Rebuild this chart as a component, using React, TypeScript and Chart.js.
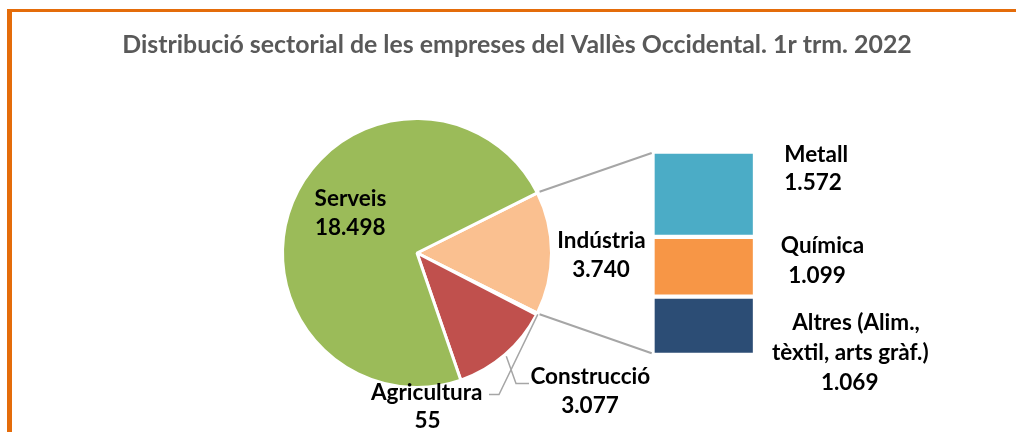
import React, { useEffect, useRef } from 'react';
import { Chart, registerables } from 'chart.js';

Chart.register(...registerables);

const TITLE = 'Distribució sectorial de les empreses del Vallès Occidental. 1r trm. 2022';

// Pie (main) series
const pieCategories = ['Indústria', 'Agricultura', 'Construcció', 'Serveis'];
const pieValues = [3740, 55, 3077, 18498];

// Bar (breakdown of Indústria) series, top to bottom
const barCategories = ['Metall', 'Química', 'Altres (Alim.,\ntèxtil, arts gràf.)'];
const barValues = [1572, 1099, 1069];

const pieColors = ['#FAC090', '#8064A2', '#C0504D', '#9BBB59'];
const barColors = ['#4BACC6', '#F79646', '#2C4D75'];

const fmt = (n: number) => String(n).replace(/\B(?=(\d{3})+(?!\d))/g, '.');

const W = 1016;
const H = 432;
const FONT = 'Lato';
const LABEL_SIZE = 22.5;

// layout of the text labels (positions only)
const pieLabelLayout = [
  { xs: [601.5, 601], y0: 248.3, lh: 28.4 },
  { xs: [426.7, 427.5], y0: 400, lh: 28.3 },
  { xs: [590.3, 590], y0: 384, lh: 28.7 },
  { xs: [350.5, 350.2], y0: 206, lh: 29 },
];
const barLabelLayout = [
  { align: 'left', xs: [784.3, 784.3], y0: 161.7, lh: 28.3 },
  { align: 'center', xs: [822.5, 817], y0: 253.3, lh: 29.4 },
  { align: 'center', xs: [856, 850.3, 849.7], y0: 330, lh: 30 },
];

export default function App() {
  const refA = useRef<HTMLCanvasElement>(null);
  const refB = useRef<HTMLCanvasElement>(null);

  useEffect(() => {
    const total = pieValues.reduce((a, b) => a + b, 0);
    const rotation = 90 - ((pieValues[0] / total) * 360) / 2;
    const pieCx = 417;
    const pieCy = 253;
    const pieBox = 272;

    const pieDecor = {
      id: 'pieDecor',
      afterDraw(chart: any) {
        const ctx = chart.ctx as CanvasRenderingContext2D;
        ctx.save();
        // title
        ctx.font = `bold 20px ${FONT}`;
        const tw = ctx.measureText(TITLE).width;
        const ts = (20 * 790) / tw;
        ctx.font = `bold ${ts}px ${FONT}`;
        ctx.fillStyle = '#595959';
        ctx.textAlign = 'center';
        ctx.textBaseline = 'alphabetic';
        ctx.fillText(TITLE, 517, 53.3);

        // leader lines
        const arcs = chart.getDatasetMeta(0).data;
        const pt = (i: number, extra: number) => {
          const a = arcs[i];
          const m = (a.startAngle + a.endAngle) / 2;
          return [a.x + (a.outerRadius + extra) * Math.cos(m), a.y + (a.outerRadius + extra) * Math.sin(m)];
        };
        ctx.strokeStyle = '#A6A6A6';
        ctx.lineWidth = 1.5;
        const agri = pt(1, 1);
        ctx.beginPath();
        ctx.moveTo(agri[0], agri[1]);
        ctx.lineTo(499, 394.5);
        ctx.lineTo(489, 394.5);
        ctx.stroke();
        const cons = pt(2, 2);
        ctx.beginPath();
        ctx.moveTo(cons[0], cons[1]);
        ctx.lineTo(516, 383.5);
        ctx.lineTo(529, 383.5);
        ctx.stroke();

        // labels
        ctx.font = `bold ${LABEL_SIZE}px ${FONT}`;
        ctx.fillStyle = '#000';
        ctx.textAlign = 'center';
        pieCategories.forEach((name, i) => {
          const lines = [name, fmt(pieValues[i])];
          const L = pieLabelLayout[i];
          lines.forEach((t, j) => ctx.fillText(t, L.xs[j], L.y0 + j * L.lh));
        });
        ctx.restore();
      },
    };

    const chartA = new Chart(refA.current as HTMLCanvasElement, {
      type: 'pie',
      data: {
        labels: pieCategories,
        datasets: [
          {
            data: pieValues,
            backgroundColor: pieColors,
            borderColor: '#ffffff',
            borderWidth: 3,
            hoverOffset: 0,
          },
        ],
      },
      options: {
        responsive: false,
        animation: false,
        events: [],
        rotation,
        layout: {
          padding: {
            left: pieCx - pieBox / 2,
            right: W - pieCx - pieBox / 2,
            top: pieCy - pieBox / 2,
            bottom: H - pieCy - pieBox / 2,
          },
        },
        plugins: {
          legend: { display: false },
          tooltip: { enabled: false },
          title: { display: false },
        },
      },
      plugins: [pieDecor],
    } as any);

    const barTotal = barValues.reduce((a, b) => a + b, 0);
    const order = [2, 1, 0]; // stacked bottom to top

    const barDecor = {
      id: 'barDecor',
      afterDraw(chart: any) {
        const ctx = chart.ctx as CanvasRenderingContext2D;
        ctx.save();
        // connection lines from the Indústria slice to the bar
        const arc: any = chartA.getDatasetMeta(0).data[0];
        const r = arc.outerRadius + 2.5;
        const p1 = [arc.x + r * Math.cos(arc.startAngle), arc.y + r * Math.sin(arc.startAngle)];
        const p2 = [arc.x + r * Math.cos(arc.endAngle), arc.y + r * Math.sin(arc.endAngle)];
        const topBar: any = chart.getDatasetMeta(2).data[0];
        const botBar: any = chart.getDatasetMeta(0).data[0];
        const left = chart.chartArea.left;
        ctx.strokeStyle = '#A6A6A6';
        ctx.lineWidth = 2;
        ctx.beginPath();
        ctx.moveTo(p1[0], p1[1]);
        ctx.lineTo(left - 0.8, topBar.y + 1.5);
        ctx.moveTo(p2[0], p2[1]);
        ctx.lineTo(left - 0.8, botBar.base - 1.5);
        ctx.stroke();

        // labels
        ctx.font = `bold ${LABEL_SIZE}px ${FONT}`;
        ctx.fillStyle = '#000';
        ctx.textBaseline = 'alphabetic';
        barCategories.forEach((name, i) => {
          const lines = [...name.split('\n'), fmt(barValues[i])];
          const L = barLabelLayout[i];
          ctx.textAlign = L.align as CanvasTextAlign;
          lines.forEach((t, j) => ctx.fillText(t, L.xs[j], L.y0 + j * L.lh));
        });
        ctx.restore();
      },
    };

    const chartB = new Chart(refB.current as HTMLCanvasElement, {
      type: 'bar',
      data: {
        labels: ['Indústria'],
        datasets: order.map((i) => ({
          label: barCategories[i],
          data: [barValues[i]],
          backgroundColor: barColors[i],
          borderColor: '#ffffff',
          borderWidth: 2.5,
          borderSkipped: false,
          barPercentage: 1,
          categoryPercentage: 1,
        })),
      },
      options: {
        responsive: false,
        animation: false,
        events: [],
        layout: { padding: { left: 652.5, right: W - 755, top: 151.5, bottom: H - 354.8 } },
        scales: {
          x: { display: false, stacked: true },
          y: { display: false, stacked: true, min: 0, max: barTotal },
        },
        plugins: {
          legend: { display: false },
          tooltip: { enabled: false },
          title: { display: false },
        },
      },
      plugins: [barDecor],
    } as any);

    return () => {
      chartB.destroy();
      chartA.destroy();
    };
  }, []);

  return (
    <div
      style={{
        position: 'fixed',
        left: 0,
        top: 0,
        width: W,
        height: H,
        overflow: 'hidden',
        background: '#ffffff',
      }}
    >
      <div
        style={{
          position: 'absolute',
          left: 7,
          top: 9,
          width: 1200,
          height: 600,
          borderLeft: '5px solid #E46C0A',
          borderTop: '3px solid #E46C0A',
          boxSizing: 'border-box',
        }}
      />
      <canvas ref={refA} width={W} height={H} style={{ position: 'absolute', left: 0, top: 0 }} />
      <canvas ref={refB} width={W} height={H} style={{ position: 'absolute', left: 0, top: 0 }} />
    </div>
  );
}
